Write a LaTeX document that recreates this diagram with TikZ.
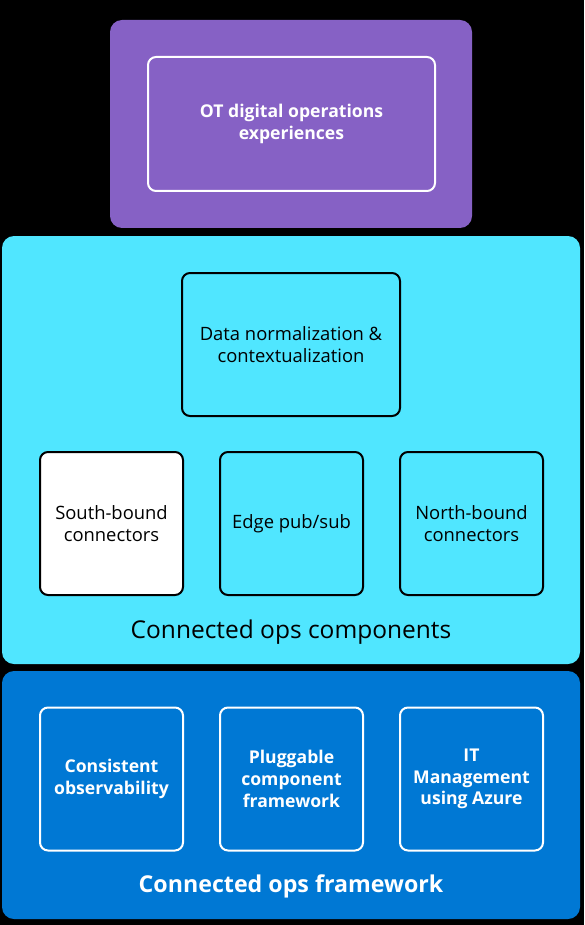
\documentclass[tikz,border=0pt]{standalone}
\usepackage{fontspec}
\setmainfont{Open Sans}
\definecolor{ppurple}{HTML}{8661C5}
\definecolor{pcyan}{HTML}{50E6FF}
\definecolor{pblue}{HTML}{0078D4}
\begin{document}
\begin{tikzpicture}[x=1pt,y=-1pt,
  outerbox/.style={rounded corners=12pt},
  innerbox/.style={draw,line width=2pt,rounded corners=8pt,align=center},
  whitebox/.style={innerbox,draw=white,text=white,font=\fontsize{17.6}{21.7}\selectfont\bfseries},
  blackbox/.style={innerbox,draw=black,text=black,font=\fontsize{18.4}{21.7}\selectfont},
  blacktitle/.style={text=black,font=\fontsize{24.5}{28}\selectfont},
  whitetitle/.style={text=white,font=\fontsize{23.2}{28}\selectfont\bfseries}]
\fill[black] (0,0) rectangle (584,925);
\useasboundingbox (0,0) rectangle (584,925);
% outer panels
\fill[ppurple,outerbox] (110,20) rectangle (472,228);
\fill[pcyan,outerbox] (2,236) rectangle (580,664);
\fill[pblue,outerbox] (2,671) rectangle (580,919);
% purple
\node[whitebox,minimum width=287pt,minimum height=134pt] (ot) at (291.5,124) {OT digital operations\\experiences};
% cyan
\node[blackbox,minimum width=218pt,minimum height=143pt] (dn) at (291,344.5) {Data normalization \&\\contextualization};
\node[blackbox,fill=white,minimum width=143pt,minimum height=143pt] (sb) at (111.5,523.5) {South-bound\\connectors};
\node[blackbox,minimum width=143pt,minimum height=143pt] (ep) at (291.5,523.5) {Edge pub/sub};
\node[blackbox,minimum width=143pt,minimum height=143pt] (nb) at (471.5,523.5) {North-bound\\connectors};
\node[blacktitle] (cc) at (291,632) {Connected ops components};
% blue
\node[whitebox,minimum width=143pt,minimum height=143pt] (co) at (111.5,779) {Consistent\\observability};
\node[whitebox,minimum width=143pt,minimum height=143pt] (pc) at (291.5,779) {Pluggable\\component\\framework};
\node[whitebox,minimum width=143pt,minimum height=143pt] (it) at (471.5,779) {IT\\Management\\using Azure};
\node[whitetitle] (cf) at (291,886) {Connected ops framework};
\end{tikzpicture}
\end{document}
